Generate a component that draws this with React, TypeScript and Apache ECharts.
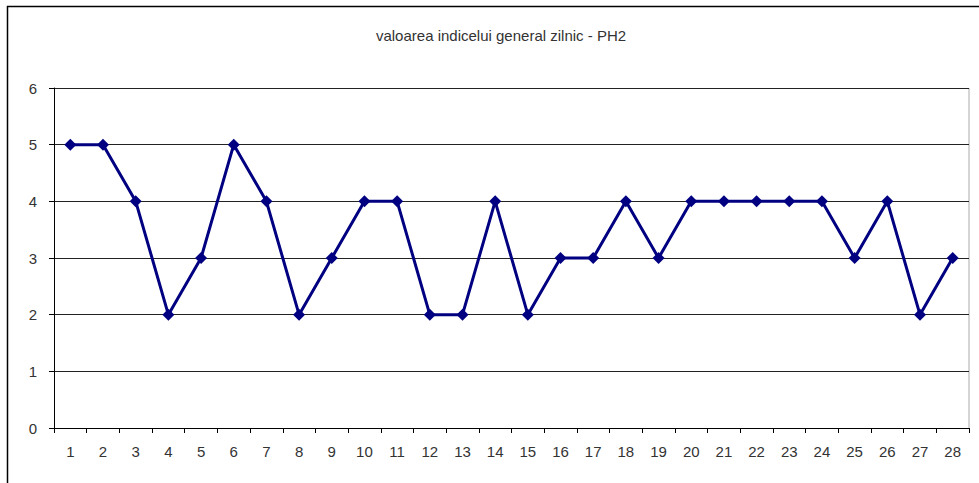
import React, { useEffect, useRef } from "react";
import * as echarts from "echarts";

const titleText = "valoarea indicelui general zilnic - PH2";
const days = Array.from({ length: 28 }, (_, i) => String(i + 1));
const values = [5, 5, 4, 2, 3, 5, 4, 2, 3, 4, 4, 2, 2, 4, 2, 3, 3, 4, 3, 4, 4, 4, 4, 4, 3, 4, 2, 3];

const FONT = "Liberation Sans, Arial, sans-serif";

export default function App() {
  const ref = useRef<HTMLDivElement>(null);
  useEffect(() => {
    if (!ref.current) return;
    const chart = echarts.init(ref.current, undefined, { renderer: "svg" });
    chart.setOption({
      animation: false,
      backgroundColor: "#ffffff",
      graphic: [
        {
          type: "rect",
          shape: { x: 7.5, y: 6.5, width: 1200, height: 1200 },
          style: { fill: "none", stroke: "#000", lineWidth: 1.5 },
          silent: true,
        },
        {
          type: "line",
          shape: { x1: 969, y1: 88, x2: 969, y2: 428 },
          style: { stroke: "#aaaaaa", lineWidth: 1 },
          silent: true,
        },
        {
          type: "text",
          x: 501,
          y: 35,
          style: {
            text: titleText,
            font: `15px ${FONT}`,
            fill: "#333",
            textAlign: "center",
            textVerticalAlign: "middle",
          },
          silent: true,
        },
      ],
      grid: { left: 54, right: 10, top: 88, bottom: 55 },
      xAxis: {
        type: "category",
        data: days,
        boundaryGap: true,
        axisLine: { lineStyle: { color: "#000", width: 1 } },
        axisTick: { show: true, length: 5, alignWithLabel: false, lineStyle: { color: "#000" } },
        axisLabel: { color: "#333", fontSize: 15, fontFamily: FONT, margin: 16, interval: 0 },
        splitLine: { show: false },
      },
      yAxis: {
        type: "value",
        min: 0,
        max: 6,
        interval: 1,
        axisLine: { show: true, lineStyle: { color: "#000", width: 1 } },
        axisTick: { show: true, length: 5, lineStyle: { color: "#000" } },
        axisLabel: { color: "#333", fontSize: 15, fontFamily: FONT, margin: 17 },
        splitLine: { show: true, lineStyle: { color: "#222", width: 1 } },
      },
      series: [
        {
          type: "line",
          data: values,
          symbol: "diamond",
          symbolSize: 12,
          lineStyle: { color: "#000080", width: 3 },
          itemStyle: { color: "#000080" },
        },
      ],
    });
    return () => chart.dispose();
  }, []);
  return <div ref={ref} style={{ position: "fixed", left: 0, top: 0, width: 979, height: 483 }} />;
}
